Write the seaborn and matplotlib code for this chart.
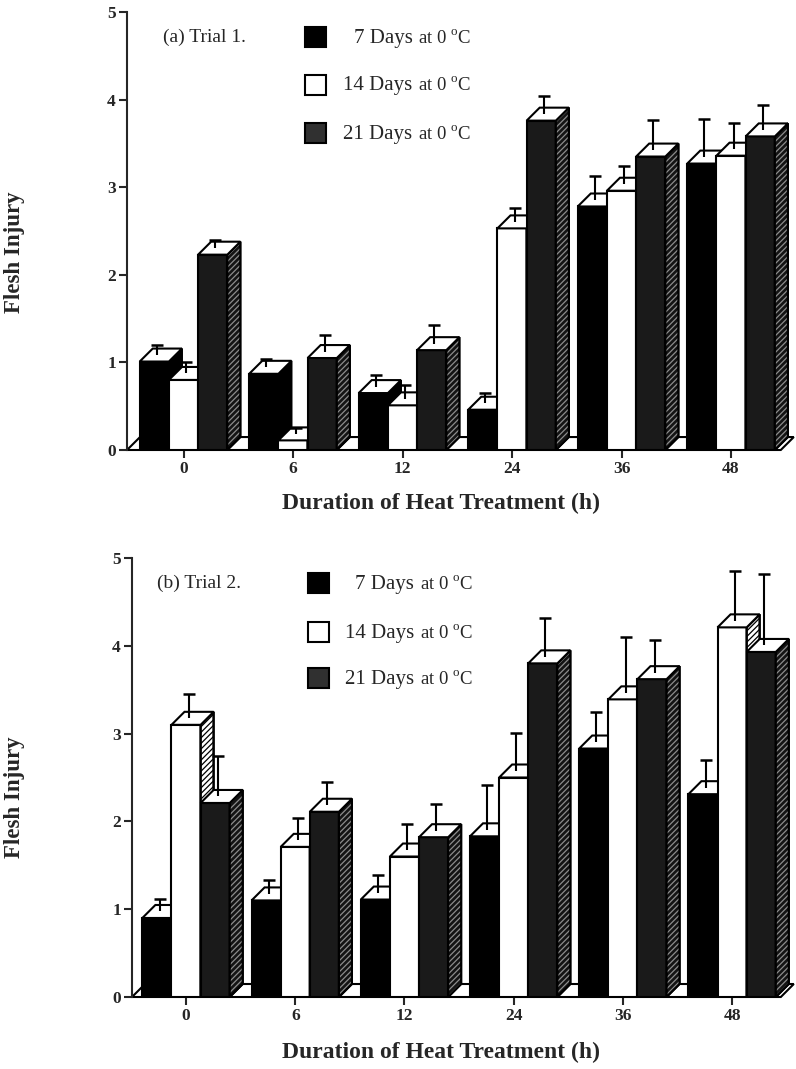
import matplotlib
matplotlib.use('Agg')
import matplotlib.pyplot as plt
from matplotlib.patches import Polygon, Rectangle
import numpy as np
import pandas as pd
import seaborn as sns

# data
hours = ['0', '6', '12', '24', '36', '48']
storage = ['7 Days', '14 Days', '21 Days']

# (a) Trial 1
t1_d7 = [1.01, 0.87, 0.65, 0.46, 2.78, 3.27]
t1_d14 = [0.80, 0.11, 0.51, 2.53, 2.96, 3.36]
t1_d21 = [2.23, 1.05, 1.14, 3.76, 3.35, 3.58]
t1_d7_err = [0.12, 0.09, 0.13, 0.12, 0.27, 0.43]
t1_d14_err = [0.13, 0.07, 0.16, 0.16, 0.21, 0.30]
t1_d21_err = [0.09, 0.19, 0.21, 0.21, 0.34, 0.28]

# (b) Trial 2
t2_d7 = [0.90, 1.10, 1.11, 1.83, 2.83, 2.31]
t2_d14 = [3.10, 1.71, 1.60, 2.50, 3.39, 4.21]
t2_d21 = [2.21, 2.11, 1.82, 3.80, 3.62, 3.93]
t2_d7_err = [0.14, 0.16, 0.20, 0.51, 0.34, 0.31]
t2_d14_err = [0.28, 0.26, 0.30, 0.43, 0.64, 0.57]
t2_d21_err = [0.46, 0.27, 0.30, 0.44, 0.37, 0.81]

colors = {'7 Days': 'black', '14 Days': 'white', '21 Days': '#1a1a1a'}
# side face: (fill, hatch, hatch colour)
sides = {'7 Days': ('black', None, 'black'),
         '14 Days': ('white', '//////', 'black'),
         '21 Days': ('#141414', '//////', '#8c8c8c')}
legend_fc = {'7 Days': 'black', '14 Days': 'white', '21 Days': '#303030'}

sns.set_theme(style='ticks')
plt.rcParams['font.family'] = ['Liberation Serif', 'DejaVu Serif']
plt.rcParams['mathtext.fontset'] = 'custom'
plt.rcParams['mathtext.rm'] = 'Liberation Serif'
plt.rcParams['hatch.linewidth'] = 0.9

DX, DY = 0.119, 0.148  # depth of the pseudo-3D bars


def draw_panel(ax, vals, errs, tag, xlim, leg_x, rows_y, tag_x):
    df = pd.DataFrame({
        'hours': hours * 3,
        'storage': np.repeat(storage, len(hours)),
        'injury': np.concatenate(vals),
    })
    sns.barplot(data=df, x='hours', y='injury', hue='storage', order=hours,
                hue_order=storage, palette=colors, saturation=1, width=0.8,
                edgecolor='black', linewidth=1.5, errorbar=None, legend=False, ax=ax)
    bar_conts = list(ax.containers)

    # floor slab
    xl, xr = xlim
    xf = xr - DX - 0.02
    ax.add_patch(Polygon([(xl, 0), (xf, 0), (xf + DX, DY), (xl + DX, DY)],
                         closed=True, fc='white', ec='black', lw=1.5, zorder=2.5, clip_on=False))

    for i, cont in enumerate(bar_conts):
        fc, hatch, hc = sides[storage[i]]
        for j, bar in enumerate(cont):
            x0, w, h = bar.get_x(), bar.get_width(), bar.get_height()
            z = 3 + (j * 3 + i) * 0.01
            bar.set_zorder(z)
            side = [(x0 + w, 0), (x0 + w + DX, DY), (x0 + w + DX, h + DY), (x0 + w, h)]
            ax.add_patch(Polygon(side, closed=True, fc=fc, ec='black', lw=1.5, zorder=z + 0.001))
            if hatch:
                ax.add_patch(Polygon(side, closed=True, fill=False, hatch=hatch, ec=hc,
                                     lw=0, zorder=z + 0.0015))
                ax.add_patch(Polygon(side, closed=True, fill=False, ec='black', lw=1.5,
                                     zorder=z + 0.0016))
            top = [(x0, h), (x0 + w, h), (x0 + w + DX, h + DY), (x0 + DX, h + DY)]
            ax.add_patch(Polygon(top, closed=True, fc='white', ec='black', lw=1.5, zorder=z + 0.002))
            eb = ax.errorbar(x0 + w / 2 + DX * 0.2, h + DY / 2, yerr=[[0], [errs[i][j]]],
                             fmt='none', ecolor='black', elinewidth=1.5, capsize=4, capthick=1.8)
            for art in list(eb.lines[1]) + list(eb.lines[2]):
                art.set_zorder(z + 0.003)
            eb.lines[1][0].set_visible(False)

    ax.set_xlim(xl, xr)
    ax.set_ylim(0, 5)
    ax.set_yticks(range(6))
    ax.set_xlabel('')
    ax.set_ylabel('')
    for s in ['top', 'right', 'bottom']:
        ax.spines[s].set_visible(False)
    ax.spines['left'].set_linewidth(1.5)
    ax.spines['left'].set_zorder(5)
    ax.tick_params(direction='out', length=6, width=1.5, labelsize=12.5, pad=2)
    for lab in ax.get_xticklabels() + ax.get_yticklabels():
        lab.set_fontweight('bold')

    # legend drawn by hand
    ax.text(tag_x, rows_y[0], tag, transform=ax.transAxes, fontsize=14, va='center', ha='left')
    for k, name in enumerate(storage):
        ax.add_patch(Rectangle((leg_x, rows_y[k] - 0.023), 0.032, 0.046, transform=ax.transAxes,
                               fc=legend_fc[name], ec='black', lw=1.5, clip_on=False))
        yb = rows_y[k] - 0.013
        t = ax.text(leg_x + 0.248, yb, r'at 0 $^{\mathrm{o}}$C', transform=ax.transAxes,
                    fontsize=13.5, va='baseline', ha='right')
        ax.annotate(name + ' ', xy=(0, yb), xycoords=(t, ax.transAxes), fontsize=15,
                    va='baseline', ha='right')


fig = plt.figure(figsize=(7.96, 10.69), dpi=100)
ax1 = fig.add_axes([127 / 796, 1 - 450 / 1069, 669 / 796, 438 / 1069])
ax2 = fig.add_axes([132 / 796, 1 - 997 / 1069, 664 / 796, 439 / 1069])

draw_panel(ax1, [t1_d7, t1_d14, t1_d21], [t1_d7_err, t1_d14_err, t1_d21_err],
           '(a) Trial 1.', (-0.516, 5.593), 0.266, [0.943, 0.834, 0.724], 0.054)
draw_panel(ax2, [t2_d7, t2_d14, t2_d21], [t2_d7_err, t2_d14_err, t2_d21_err],
           '(b) Trial 2.', (-0.495, 5.585), 0.265, [0.943, 0.831, 0.727], 0.038)

for yc in [252, 797]:
    fig.text(15 / 796, 1 - yc / 1069, 'Flesh Injury', rotation=90, ha='center', va='center',
             fontsize=16.5, fontweight='bold')
for yc in [503, 1052]:
    fig.text(441 / 796, 1 - yc / 1069, 'Duration of Heat Treatment (h)', ha='center', va='center',
             fontsize=17, fontweight='bold')

fig.savefig('out.png', dpi=100)
